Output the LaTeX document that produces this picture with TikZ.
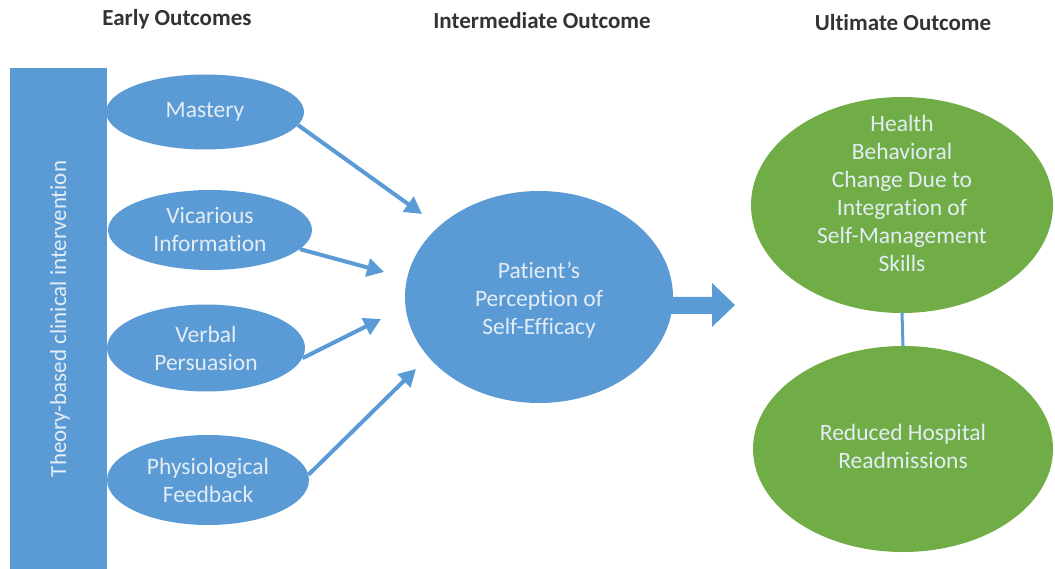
\documentclass[tikz,border=0pt]{standalone}
\usepackage{fontspec}
\setmainfont{Carlito}[Ligatures=NoCommon]
\usetikzlibrary{shapes.geometric,arrows.meta}
\definecolor{boxblue}{HTML}{5B9BD5}
\definecolor{okgreen}{HTML}{70AD47}
\definecolor{headgray}{HTML}{333333}
\definecolor{lighttext}{HTML}{E4ECF4}
\begin{document}
\begin{tikzpicture}[x=1pt,y=-1pt,
  heading/.style={font=\fontsize{23}{27}\selectfont\bfseries, text=headgray},
  bubble/.style={ellipse, fill=boxblue, inner sep=0pt, align=center,
    text=lighttext, font=\fontsize{23.5}{28}\selectfont},
  goal/.style={bubble, fill=okgreen},
  caption/.style={align=center, text=lighttext, font=\fontsize{23.5}{28}\selectfont},
  feed/.style={draw=boxblue, line width=4pt,
    -{Triangle[length=17pt,width=18pt]}}]
\useasboundingbox (0,0) rectangle (1055,569);

% column headings
\node[heading] (h1) at (177,19) {Early Outcomes};
\node[heading] (h2) at (542,21) {Intermediate Outcome};
\node[heading] (h3) at (903,23) {Ultimate Outcome};

% intervention bar
\node[fill=boxblue, minimum width=97pt, minimum height=501pt, inner sep=0pt,
  anchor=north west] (bar) at (10,68) {};
\node[rotate=90, text=lighttext, font=\fontsize{23}{27}\selectfont]
  (barlabel) at (60,319) {Theory-based clinical intervention};

% early outcomes
\node[bubble, minimum width=198pt, minimum height=75pt] (mast) at (205,112) {Mastery};
\node[bubble, minimum width=204pt, minimum height=80pt] (vica) at (210,230) {Vicarious\\Information};
\node[bubble, minimum width=198pt, minimum height=87pt] (verb) at (206,348) {Verbal\\Persuasion};
\node[bubble, minimum width=202pt, minimum height=90pt] (phys) at (208,480) {Physiological\\Feedback};

% intermediate outcome
\node[bubble, minimum width=268pt, minimum height=212pt,
  label={[caption, yshift=-3pt]center:{Patient’s\\Perception of\\Self-Efficacy}}]
  (self) at (539,297) {};

% ultimate outcomes
\node[goal, minimum width=302pt, minimum height=216pt,
  label={[caption, yshift=12pt]center:{Health\\Behavioral\\Change Due to\\Integration of\\Self-Management\\Skills}}]
  (hbc) at (902,205) {};
\node[goal, minimum width=300pt, minimum height=206pt,
  label={[caption, yshift=3pt]center:{Reduced Hospital\\Readmissions}}]
  (rhr) at (903,449) {};

% arrow tips near the central bubble
\coordinate (t1) at (422,214);
\coordinate (t2) at (384,272);
\coordinate (t3) at (381,319);
\coordinate (t4) at (416,369);

\draw[feed] (mast.-8) -- (t1);
\draw[feed] (vica.-12) -- (t2);
\draw[feed] (verb.-6) -- (t3);
\draw[feed] (phys.3) -- (t4);

% block arrow toward the ultimate outcomes
\fill[boxblue] (668,297) -- (712,297) -- (712,283) -- (735,305)
  -- (712,327) -- (712,314) -- (668,314) -- cycle;

% link between the two ultimate outcomes
\draw[boxblue, line width=3pt] (hbc.south) -- (rhr.north);
\end{tikzpicture}
\end{document}
